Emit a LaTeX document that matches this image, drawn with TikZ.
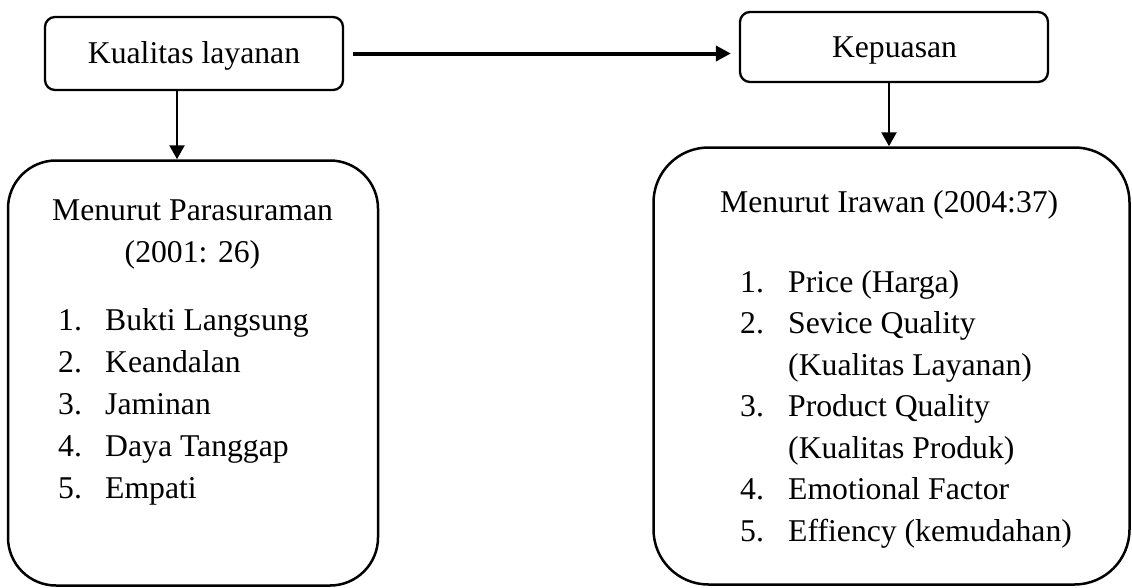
\documentclass[tikz,border=0pt]{standalone}
\usepackage{fontspec}
\setmainfont{Liberation Serif}
\usetikzlibrary{arrows.meta}
\begin{document}
\begin{tikzpicture}[x=1pt,y=-1pt,
  smallbox/.style={draw,line width=2.3pt,rounded corners=10pt,inner sep=0pt},
  bigbox/.style={draw,line width=2.5pt,inner sep=0pt},
  txt/.style={anchor=base west,inner sep=0pt,font=\fontsize{31.7}{38}\selectfont},
  ctxt/.style={anchor=base,inner sep=0pt,font=\fontsize{31.7}{38}\selectfont},
  conn/.style={line width=2.5pt,-{Triangle[length=14pt,width=15pt]}},
  thickconn/.style={line width=4pt,-{Triangle[length=15pt,width=15pt]}}]
\useasboundingbox (0,0) rectangle (1132,587);
% small boxes
\node[smallbox,minimum width=298pt,minimum height=73pt] (kl) at (194,53.5) {};
\node[smallbox,minimum width=308pt,minimum height=70pt] (kp) at (894,47) {};
\node[ctxt] (klt) at (194,63) {Kualitas layanan};
\node[ctxt] (kpt) at (894.5,57) {Kepuasan};
% big boxes
\node[bigbox,rounded corners=48pt,minimum width=370pt,minimum height=425pt] (lb) at (193,373) {};
\node[bigbox,rounded corners=55pt,minimum width=476pt,minimum height=437pt] (rb) at (891.5,366) {};
% connectors
\draw[thickconn,shorten <=9pt,shorten >=8pt] (kl.east) -- (kl.east -| kp.west);
\draw[conn] ([xshift=-17pt]kl.south) -- ([xshift=-17pt]kl.south |- lb.north);
\draw[conn] ([xshift=-5pt]kp.south) -- ([xshift=-5pt]kp.south |- rb.north);
% left text
\node[ctxt] (l0) at (192.5,220) {Menurut Parasuraman};
\node[ctxt] (l0b) at (192.5,262) {(2001: 26)};
\node[txt] (ln1) at (58,330) {1.};  \node[txt] (li1) at (105,330) {Bukti Langsung};
\node[txt] (ln2) at (58,372) {2.};  \node[txt] (li2) at (105,372) {Keandalan};
\node[txt] (ln3) at (58,414) {3.};  \node[txt] (li3) at (105,414) {Jaminan};
\node[txt] (ln4) at (58,456) {4.};  \node[txt] (li4) at (105,456) {Daya Tanggap};
\node[txt] (ln5) at (58,498) {5.};  \node[txt] (li5) at (105,498) {Empati};
% right text
\node[txt] (r0) at (720,212) {Menurut Irawan (2004:37)};
\node[txt] (rn1) at (740,292) {1.};   \node[txt] (ri1) at (788,292) {Price (Harga)};
\node[txt] (rn2) at (740,333.5) {2.}; \node[txt] (ri2) at (788,333.5) {Sevice Quality};
\node[txt] (ri2b) at (788,375) {(Kualitas Layanan)};
\node[txt] (rn3) at (740,416.5) {3.}; \node[txt] (ri3) at (788,416.5) {Product Quality};
\node[txt] (ri3b) at (788,458) {(Kualitas Produk)};
\node[txt] (rn4) at (740,499.5) {4.}; \node[txt] (ri4) at (788,499.5) {Emotional Factor};
\node[txt] (rn5) at (740,541) {5.};   \node[txt] (ri5) at (788,541) {Effiency (kemudahan)};
\end{tikzpicture}
\end{document}
